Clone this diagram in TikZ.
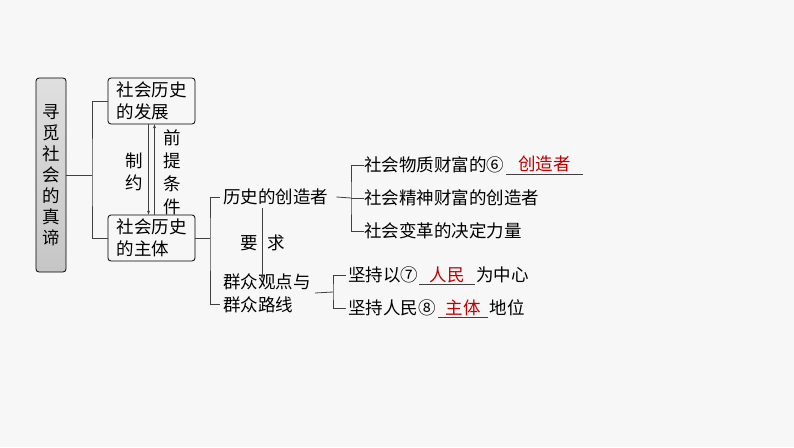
\documentclass[tikz,border=0pt]{standalone}
\usepackage{fontspec}
\setmainfont{Noto Sans CJK SC}
\usetikzlibrary{positioning,arrows.meta}
\definecolor{ansred}{RGB}{192,0,0}
\definecolor{bg}{RGB}{247,247,247}
\tikzset{
	txt/.style={inner sep=0pt,anchor=west,font=\fontsize{17.5}{20}\selectfont},
	topic/.style={draw,rounded corners=3pt,line width=0.8pt,align=left,minimum width=87pt,minimum height=46pt,inner sep=2pt,font=\fontsize{17.5}{22}\selectfont},
	blank/.style={inner sep=0pt,text=ansred,font=\fontsize{17.5}{20}\selectfont,minimum height=18pt},
	conn/.style={line width=0.8pt,draw=black!75}
}
\begin{document}
\begin{tikzpicture}[x=1pt,y=-1pt]
	\fill[bg] (0,0) rectangle (794,447);
	\useasboundingbox (0,0) rectangle (794,447);
	% title box
	\node[draw,rounded corners=3pt,line width=0.8pt,top color=gray!25,bottom color=gray!45,minimum width=30pt,minimum height=194pt,inner sep=0pt,align=center,font=\fontsize{17.5}{21}\selectfont] (root) at (51,175) {寻\\觅\\社\\会\\的\\真\\谛};
	\node[topic] (dev) at (151.5,101) {社会历史\\的发展};
	\node[topic] (subj) at (151.5,238) {社会历史\\的主体};
	\coordinate (b1) at (92,175);
	\draw[conn] (root.east) -- (b1);
	\draw[conn] (dev.west) -| (b1) |- (subj.west);
	% mutual relations
	\draw[conn,-{Stealth[length=4pt]}] ([xshift=-3pt]dev.south) -- ([xshift=-3pt]subj.north);
	\draw[conn,-{Stealth[length=4pt]}] ([xshift=3pt]subj.north) -- ([xshift=3pt]dev.south);
	\node[font=\fontsize{17.5}{22}\selectfont,align=center,inner sep=0pt] (zy) at (134,172) {制\\约};
	\node[font=\fontsize{17.5}{23}\selectfont,align=center,inner sep=0pt] (tj) at (172,172) {前\\提\\条\\件};
	% second level
	\node[txt] (cz) at (223,197) {历史的创造者};
	\node[txt,align=left,font=\fontsize{17.5}{23}\selectfont] (qz) at (223,293) {群众观点与\\群众路线};
	\coordinate (b2) at (210,238);
	\draw[conn] (subj.east) -- (b2);
	\draw[conn] ([xshift=-3pt]cz.west) -| (b2) |- ([xshift=-3pt,yshift=-11pt]qz.west);
	\draw[conn,-{Stealth[length=4pt]}] (262,208) -- (262,279);
	\node[txt,anchor=center] (yao) at (249,243) {要};
	\node[txt,anchor=center] (qiu) at (276,243) {求};
	% creators
	\node[txt] (w1) at (364,165) {社会物质财富的⑥};
	\node[blank,right=2pt of w1,minimum width=76pt] (k6) {\raisebox{3pt}{创造者}};
	\node[txt] (w2) at (364,198) {社会精神财富的创造者};
	\node[txt] (w3) at (364,231) {社会变革的决定力量};
	\draw[conn] (k6.south west) -- (k6.south east);
	\coordinate (b3) at (351,198);
	\draw[conn] ([xshift=8pt]cz.east) -- (b3);
	\draw[conn] (w1.west) -| (b3) |- (w3.west);
	\draw[conn] (b3) -- (w2.west);
	% mass line
	\node[txt] (p1) at (348,275) {坚持以⑦};
	\node[blank,right=1pt of p1,minimum width=55pt] (k7) {\raisebox{2pt}{人民}};
	\node[txt,right=1pt of k7] (p1b) {为中心};
	\node[txt] (p2) at (348,308) {坚持人民⑧};
	\node[blank,right=2pt of p2,minimum width=50pt] (k8) {\raisebox{2pt}{主体}};
	\node[txt,right=1pt of k8] (p2b) {地位};
	\draw[conn] (k7.south west) -- (k7.south east);
	\draw[conn] (k8.south west) -- (k8.south east);
	\coordinate (b4) at (333,292);
	\draw[conn] ([xshift=4pt]qz.east) -- (b4);
	\draw[conn] ([xshift=-2pt]p1.west) -| (b4) |- ([xshift=-2pt]p2.west);
\end{tikzpicture}
\end{document}
